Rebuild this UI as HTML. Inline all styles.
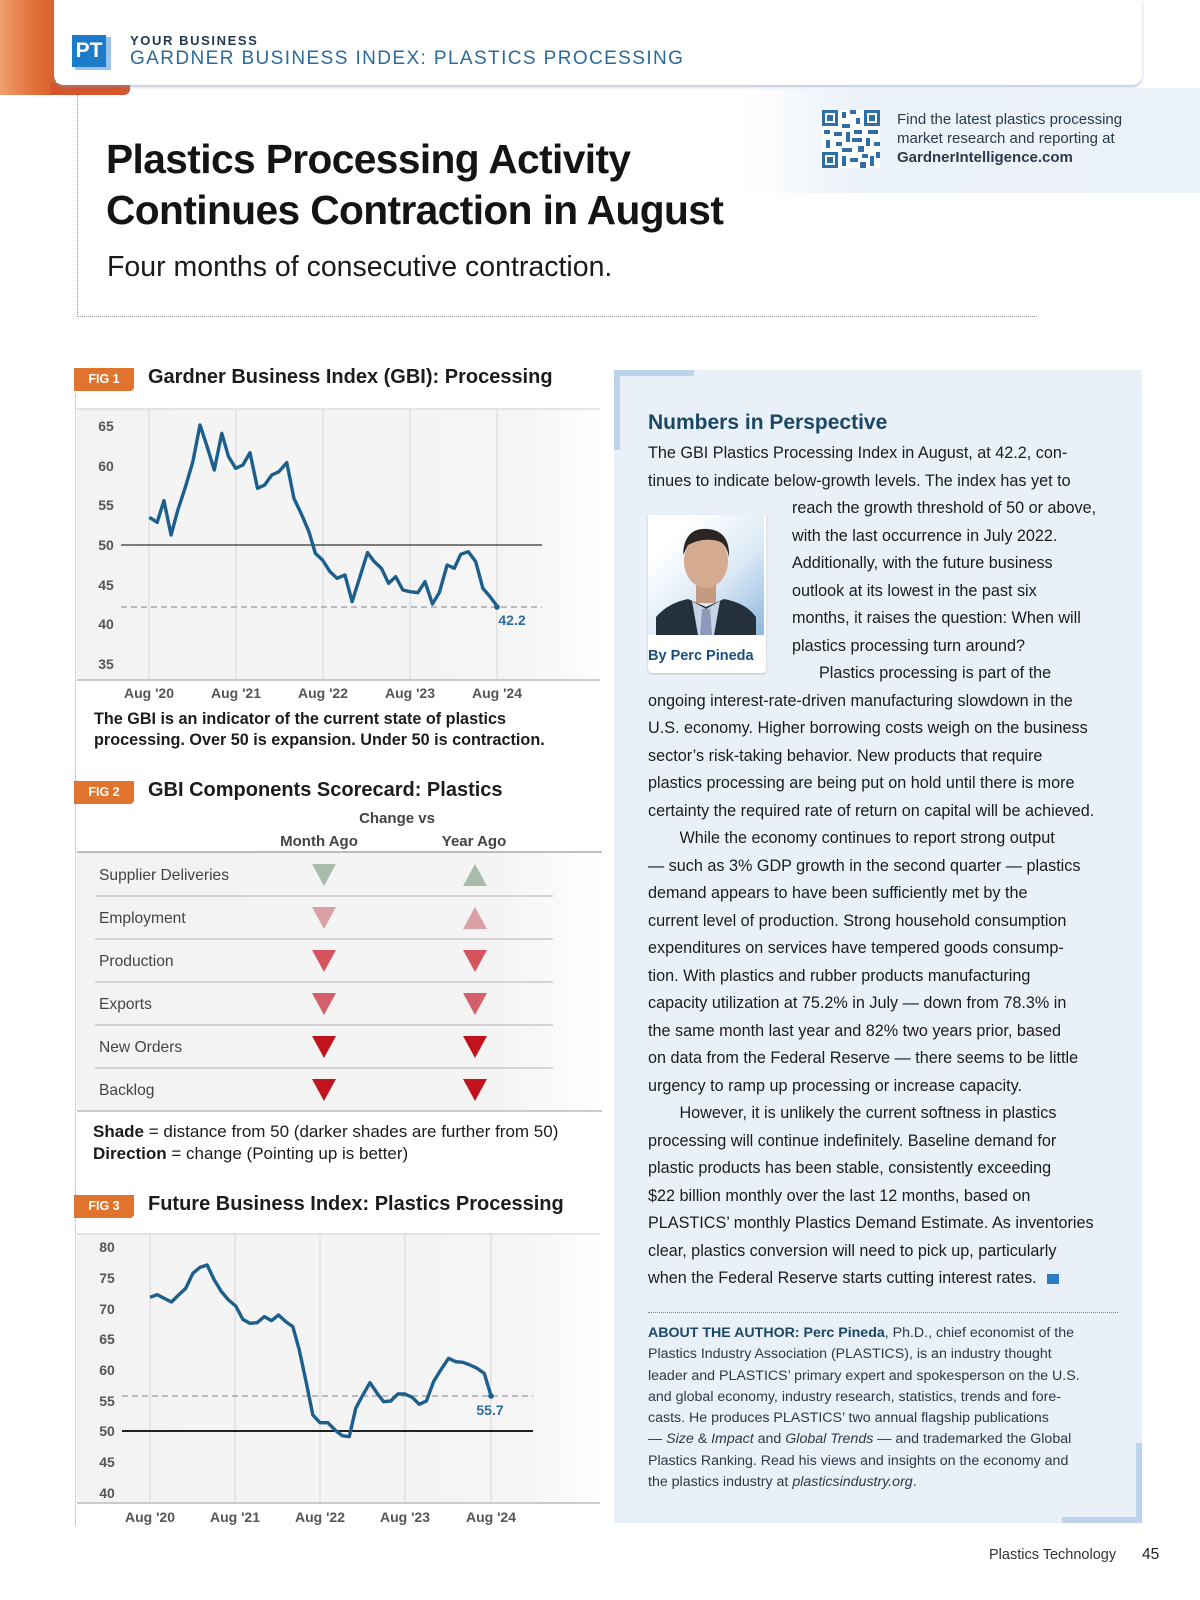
<!DOCTYPE html>
<html><head><meta charset="utf-8">
<style>
*{margin:0;padding:0;box-sizing:border-box}
body{width:1200px;height:1600px;position:relative;background:#fff;font-family:"Liberation Sans",sans-serif;overflow:hidden;color:#1a1a1a}
.a{position:absolute;white-space:nowrap}
.body{font-size:16.2px;color:#1c1c1c}
.auth{font-size:14.2px;color:#2b3a4a}
</style></head><body>
<!-- header -->
<div class="a" style="left:0;top:0;width:56px;height:95px;background:linear-gradient(90deg,#f0a070,#e07038 60%,#d9602c)"></div>
<div class="a" style="left:50px;top:83px;width:80px;height:12px;background:#d4552a;border-radius:0 0 6px 0"></div>
<div class="a" style="left:54px;top:0;width:1088px;height:85px;background:#fff;border-radius:0 0 10px 10px;box-shadow:0 2px 3px rgba(120,150,190,.5)"></div>
<div class="a" style="left:75px;top:37px;width:36px;height:33px;background:#9cc4e8"></div>
<div class="a" style="left:72px;top:35px;width:34px;height:32px;background:#1b7bc9;color:#fff;font-weight:bold;font-size:21px;text-align:center;line-height:32px">PT</div>
<div class="a" style="left:130px;top:33px;font-size:13px;font-weight:bold;letter-spacing:1.6px;color:#23384e">YOUR BUSINESS</div>
<div class="a" style="left:130px;top:48px;font-size:19px;letter-spacing:1.4px;color:#2b6a9c">GARDNER BUSINESS INDEX: PLASTICS PROCESSING</div>
<!-- top right blue area -->
<div class="a" style="left:740px;top:88px;width:460px;height:105px;background:linear-gradient(90deg,rgba(236,242,249,0),#ecf2f9 25%,#ebf1f8)"></div>
<svg class="a" style="left:822px;top:110px" width="58" height="58" viewBox="0 0 58 58">
<rect width="58" height="58" fill="#fff"/>
<g fill="#2f6fa8">
<rect x="0" y="0" width="16" height="16"/><rect x="42" y="0" width="16" height="16"/><rect x="0" y="42" width="16" height="16"/>
</g>
<g fill="#fff"><rect x="3" y="3" width="10" height="10"/><rect x="45" y="3" width="10" height="10"/><rect x="3" y="45" width="10" height="10"/></g>
<g fill="#2f6fa8"><rect x="5" y="5" width="6" height="6"/><rect x="47" y="5" width="6" height="6"/><rect x="5" y="47" width="6" height="6"/>
<rect x="20" y="2" width="4" height="6"/><rect x="28" y="0" width="6" height="4"/><rect x="34" y="8" width="4" height="6"/><rect x="20" y="14" width="8" height="4"/>
<rect x="2" y="20" width="6" height="4"/><rect x="12" y="22" width="8" height="4"/><rect x="24" y="22" width="4" height="10"/><rect x="32" y="20" width="8" height="4"/><rect x="46" y="20" width="10" height="4"/>
<rect x="4" y="30" width="4" height="8"/><rect x="14" y="32" width="6" height="4"/><rect x="30" y="28" width="10" height="4"/><rect x="44" y="28" width="4" height="8"/><rect x="52" y="32" width="6" height="4"/>
<rect x="20" y="38" width="10" height="4"/><rect x="36" y="36" width="6" height="6"/><rect x="20" y="46" width="4" height="10"/><rect x="28" y="48" width="8" height="4"/><rect x="40" y="44" width="6" height="4"/><rect x="48" y="46" width="4" height="10"/><rect x="38" y="52" width="6" height="6"/><rect x="54" y="42" width="4" height="6"/></g>
</svg>
<div class="a" style="left:897px;top:110px;font-size:15px;line-height:19px;color:#2a3a4c">Find the latest plastics processing<br>market research and reporting at<br><b>GardnerIntelligence.com</b></div>
<!-- title box -->
<div class="a" style="left:77px;top:95px;width:0;height:222px;border-left:1px dotted #9a9a9a"></div>
<div class="a" style="left:77px;top:316px;width:960px;height:0;border-top:1px dotted #9a9a9a"></div>
<div class="a" style="left:106px;top:134px;font-size:40.7px;font-weight:bold;line-height:51px;letter-spacing:-0.6px;color:#141414">Plastics Processing Activity<br>Continues Contraction in August</div>
<div class="a" style="left:107px;top:251px;font-size:28.5px;color:#1a1a1a;letter-spacing:0px">Four months of consecutive contraction.</div>
<!-- left vertical dotted -->
<div class="a" style="left:75px;top:395px;width:0;height:1130px;border-left:1px dotted #aaa"></div>

<!-- FIG 1 -->
<div class="a" style="left:74px;top:368px;width:60px;height:23px;background:#e0742e;color:#fff;font-weight:bold;font-size:12.5px;line-height:23px;text-align:center;border-radius:0 0 4px 0">FIG 1</div>
<div class="a" style="left:148px;top:366px;font-size:20px;font-weight:bold;color:#1c1c1c">Gardner Business Index (GBI): Processing</div>
<svg class="a" style="left:0;top:0" width="620" height="760">
<defs><linearGradient id="bg1" x1="0" x2="1"><stop offset="0" stop-color="#f3f3f3"/><stop offset="0.85" stop-color="#f5f5f5"/><stop offset="1" stop-color="#fff"/></linearGradient></defs>
<rect x="77" y="409" width="525" height="271" fill="url(#bg1)"/>
<line x1="77" y1="409" x2="600" y2="409" stroke="#ccc"/>
<line x1="77" y1="680" x2="600" y2="680" stroke="#bbb" stroke-width="1.5"/>
<g stroke="#d6d6d6" stroke-width="1">
<line x1="149" y1="409" x2="149" y2="680"/><line x1="236" y1="409" x2="236" y2="680"/><line x1="323" y1="409" x2="323" y2="680"/><line x1="410" y1="409" x2="410" y2="680"/><line x1="497" y1="409" x2="497" y2="680"/></g>
<line x1="121" y1="545" x2="542" y2="545" stroke="#333" stroke-width="1.3"/>
<line x1="121" y1="607" x2="542" y2="607" stroke="#999" stroke-width="1.3" stroke-dasharray="6,4"/>
<g font-family="Liberation Sans,sans-serif" font-weight="bold" font-size="14" fill="#555" text-anchor="middle">
<text x="106" y="431">65</text><text x="106" y="471">60</text><text x="106" y="510">55</text><text x="106" y="550">50</text><text x="106" y="590">45</text><text x="106" y="629">40</text><text x="106" y="669">35</text>
<text x="149" y="698">Aug '20</text><text x="236" y="698">Aug '21</text><text x="323" y="698">Aug '22</text><text x="410" y="698">Aug '23</text><text x="497" y="698">Aug '24</text>
<text x="512" y="625" fill="#2c6e9f">42.2</text></g>
<g transform="translate(60,400) scale(0.35714,0.33333)">
<polyline fill="none" stroke="#1d5f8c" stroke-width="3.4" vector-effect="non-scaling-stroke" stroke-linejoin="round" points="250,352 272,367 291,302 311,405 330,330 350,265 372,185 392,75 412,140 432,210 453,100 472,170 492,205 512,195 532,158 553,265 573,255 593,225 613,215 635,188 655,295 675,340 697,395 715,460 735,480 756,515 776,535 798,525 818,605 840,530 861,458 880,485 900,505 920,550 940,530 960,570 980,575 1002,578 1022,545 1043,612 1062,578 1084,495 1104,505 1122,463 1143,455 1164,485 1184,565 1204,590 1225,620"/>
</g>
<circle cx="497" cy="607" r="2.8" fill="#1d5f8c"/>
</svg>
<div class="a" style="left:94px;top:709px;font-size:16.2px;font-weight:bold;line-height:21px;color:#1c1c1c">The GBI is an indicator of the current state of plastics<br>processing. Over 50 is expansion. Under 50 is contraction.</div>

<!-- FIG 2 -->
<div class="a" style="left:74px;top:781px;width:60px;height:23px;background:#e0742e;color:#fff;font-weight:bold;font-size:12.5px;line-height:23px;text-align:center;border-radius:0 0 4px 0">FIG 2</div>
<div class="a" style="left:148px;top:779px;font-size:20px;font-weight:bold;color:#1c1c1c">GBI Components Scorecard: Plastics</div>
<svg class="a" style="left:0;top:790px" width="620" height="340">
<defs><linearGradient id="bg2" x1="0" x2="1"><stop offset="0" stop-color="#f3f3f3"/><stop offset="0.8" stop-color="#f4f4f4"/><stop offset="1" stop-color="#fff"/></linearGradient></defs>
<rect x="77" y="62" width="525" height="259" fill="url(#bg2)"/>
<line x1="77" y1="62" x2="602" y2="62" stroke="#999" stroke-width="1.2"/>
<g stroke="#c8c8c8" stroke-width="1.5"><line x1="95" y1="106" x2="553" y2="106"/><line x1="95" y1="149" x2="553" y2="149"/><line x1="95" y1="192" x2="553" y2="192"/><line x1="95" y1="235" x2="553" y2="235"/><line x1="95" y1="278" x2="553" y2="278"/></g>
<line x1="77" y1="321" x2="602" y2="321" stroke="#bbb" stroke-width="1.5"/>
<g font-family="Liberation Sans,sans-serif" font-size="15.6" fill="#444">
<text x="99" y="90">Supplier Deliveries</text><text x="99" y="133">Employment</text><text x="99" y="176">Production</text><text x="99" y="219">Exports</text><text x="99" y="262">New Orders</text><text x="99" y="305">Backlog</text></g>
<g font-family="Liberation Sans,sans-serif" font-size="15" font-weight="bold" fill="#444" text-anchor="middle">
<text x="397" y="33">Change vs</text><text x="319" y="56">Month Ago</text><text x="474" y="56">Year Ago</text></g>
<g>
<polygon points="312,74 336,74 324,96" fill="#a8bcac"/><polygon points="463,96 487,96 475,74" fill="#a8bcac"/>
<polygon points="312,117 336,117 324,139" fill="#daa0a6"/><polygon points="463,139 487,139 475,117" fill="#daa0a6"/>
<polygon points="312,160 336,160 324,182" fill="#d6545e"/><polygon points="463,160 487,160 475,182" fill="#d6545e"/>
<polygon points="312,203 336,203 324,225" fill="#d3606a"/><polygon points="463,203 487,203 475,225" fill="#d3606a"/>
<polygon points="312,246 336,246 324,268" fill="#c0131d"/><polygon points="463,246 487,246 475,268" fill="#c0131d"/>
<polygon points="312,289 336,289 324,311" fill="#c0131d"/><polygon points="463,289 487,289 475,311" fill="#c0131d"/>
</g></svg>
<div class="a" style="left:93px;top:1121px;font-size:17px;line-height:21.5px;color:#1c1c1c"><b>Shade</b> = distance from 50 (darker shades are further from 50)<br><b>Direction</b> = change (Pointing up is better)</div>

<!-- FIG 3 -->
<div class="a" style="left:74px;top:1195px;width:60px;height:23px;background:#e0742e;color:#fff;font-weight:bold;font-size:12.5px;line-height:23px;text-align:center;border-radius:0 0 4px 0">FIG 3</div>
<div class="a" style="left:148px;top:1193px;font-size:20px;font-weight:bold;color:#1c1c1c">Future Business Index: Plastics Processing</div>
<svg class="a" style="left:0;top:0" width="620" height="1600">
<rect x="77" y="1234" width="525" height="269" fill="url(#bg1)"/>
<line x1="77" y1="1234" x2="600" y2="1234" stroke="#ccc"/>
<line x1="77" y1="1503" x2="600" y2="1503" stroke="#bbb" stroke-width="1.5"/>
<g stroke="#d6d6d6"><line x1="150" y1="1234" x2="150" y2="1503"/><line x1="235" y1="1234" x2="235" y2="1503"/><line x1="320" y1="1234" x2="320" y2="1503"/><line x1="405" y1="1234" x2="405" y2="1503"/><line x1="491" y1="1234" x2="491" y2="1503"/></g>
<line x1="122" y1="1431" x2="533" y2="1431" stroke="#222" stroke-width="2"/>
<line x1="122" y1="1396" x2="533" y2="1396" stroke="#999" stroke-width="1.3" stroke-dasharray="6,4"/>
<g font-family="Liberation Sans,sans-serif" font-weight="bold" font-size="14" fill="#555" text-anchor="middle">
<text x="107" y="1252">80</text><text x="107" y="1283">75</text><text x="107" y="1314">70</text><text x="107" y="1344">65</text><text x="107" y="1375">60</text><text x="107" y="1406">55</text><text x="107" y="1436">50</text><text x="107" y="1467">45</text><text x="107" y="1498">40</text>
<text x="150" y="1522">Aug '20</text><text x="235" y="1522">Aug '21</text><text x="320" y="1522">Aug '22</text><text x="405" y="1522">Aug '23</text><text x="491" y="1522">Aug '24</text>
<text x="490" y="1415" fill="#2c6e9f">55.7</text></g>
<g transform="translate(60,1230) scale(0.35714,0.33333)">
<polyline fill="none" stroke="#1d5f8c" stroke-width="3.4" vector-effect="non-scaling-stroke" stroke-linejoin="round" points="252,202 272,194 292,205 312,216 332,195 352,175 372,130 392,112 412,105 432,150 452,185 472,210 492,228 512,268 532,280 552,278 572,260 592,272 612,255 632,275 652,290 670,360 690,460 708,555 728,578 750,578 770,600 790,617 810,620 828,535 848,495 868,458 888,490 906,515 926,513 946,492 966,492 986,502 1006,523 1026,513 1046,455 1066,420 1088,385 1108,395 1128,397 1148,405 1168,415 1188,430 1207,498"/>
</g>
<circle cx="491" cy="1396" r="2.8" fill="#1d5f8c"/>
</svg>

<!-- right panel -->
<div class="a" style="left:614px;top:370px;width:528px;height:1153px;background:#e9f0f7"></div>
<div class="a" style="left:614px;top:370px;width:80px;height:6px;background:#bdd3ea"></div>
<div class="a" style="left:614px;top:370px;width:6px;height:80px;background:#bdd3ea"></div>
<div class="a" style="left:1062px;top:1517px;width:80px;height:6px;background:#bdd3ea"></div>
<div class="a" style="left:1136px;top:1443px;width:6px;height:80px;background:#bdd3ea"></div>
<div class="a" style="left:648px;top:411px;font-size:21px;font-weight:bold;color:#1b4766">Numbers in Perspective</div>
<!-- photo -->
<div class="a" style="left:648px;top:515px;width:118px;height:158px;background:#fff;border-radius:0 0 4px 4px;box-shadow:0 1px 2px rgba(0,0,0,.2)"></div>
<div class="a" style="left:648px;top:515px;width:116px;height:120px;background:linear-gradient(135deg,#fff 20%,#dbe9f6 60%,#8fb6de)"></div>
<svg class="a" style="left:648px;top:505px" width="116" height="130">
<path d="M8,130 L8,112 Q20,98 40,94 L58,102 L76,94 Q98,98 108,112 L108,130 Z" fill="#25303d"/>
<path d="M44,96 L58,104 L72,96 L66,130 L50,130 Z" fill="#c8d4e4"/>
<path d="M54,104 L62,104 L64,130 L52,130 Z" fill="#8a9ab8"/>
<rect x="48" y="76" width="20" height="22" fill="#c49a80"/>
<ellipse cx="58" cy="56" rx="22" ry="27" fill="#d4ab90"/>
<path d="M35,50 Q36,22 60,24 Q82,26 81,52 Q78,38 70,36 Q55,32 40,40 Z" fill="#2b2624"/>
</svg>
<div class="a" style="left:648px;top:648px;font-size:14.5px;font-weight:bold;color:#1b4f80">By Perc Pineda</div>
<div class="a body" style="left:648px;top:440px;line-height:27.5px">The GBI Plastics Processing Index in August, at 42.2, con-<br>tinues to indicate below-growth levels. The index has yet to</div>
<div class="a body" style="left:792px;top:495px;line-height:27.5px">reach the growth threshold of 50 or above,<br>with the last occurrence in July 2022.<br>Additionally, with the future business<br>outlook at its lowest in the past six<br>months, it raises the question: When will<br>plastics processing turn around?<br>&nbsp;&nbsp;&nbsp;&nbsp;&nbsp;&nbsp;Plastics processing is part of the</div>
<div class="a body" style="left:648px;top:687.5px;line-height:27.5px">ongoing interest-rate-driven manufacturing slowdown in the<br>U.S. economy. Higher borrowing costs weigh on the business<br>sector’s risk-taking behavior. New products that require<br>plastics processing are being put on hold until there is more<br>certainty the required rate of return on capital will be achieved.<br>&nbsp;&nbsp;&nbsp;&nbsp;&nbsp;&nbsp;&nbsp;While the economy continues to report strong output<br>— such as 3% GDP growth in the second quarter — plastics<br>demand appears to have been sufficiently met by the<br>current level of production. Strong household consumption<br>expenditures on services have tempered goods consump-<br>tion. With plastics and rubber products manufacturing<br>capacity utilization at 75.2% in July — down from 78.3% in<br>the same month last year and 82% two years prior, based<br>on data from the Federal Reserve — there seems to be little<br>urgency to ramp up processing or increase capacity.<br>&nbsp;&nbsp;&nbsp;&nbsp;&nbsp;&nbsp;&nbsp;However, it is unlikely the current softness in plastics<br>processing will continue indefinitely. Baseline demand for<br>plastic products has been stable, consistently exceeding<br>$22 billion monthly over the last 12 months, based on<br>PLASTICS’ monthly Plastics Demand Estimate. As inventories<br>clear, plastics conversion will need to pick up, particularly<br>when the Federal Reserve starts cutting interest rates. <span style="display:inline-block;width:12px;height:10px;background:#2a7ac4;margin-left:6px;vertical-align:middle"></span></div>
<div class="a" style="left:648px;top:1312px;width:470px;border-top:1.5px dotted #7a8a9a"></div>
<div class="a auth" style="left:648px;top:1323px;line-height:21.3px"><b style="color:#1b4766">ABOUT THE AUTHOR: Perc Pineda</b>, Ph.D., chief economist of the<br>Plastics Industry Association (PLASTICS), is an industry thought<br>leader and PLASTICS’ primary expert and spokesperson on the U.S.<br>and global economy, industry research, statistics, trends and fore-<br>casts. He produces PLASTICS’ two annual flagship publications<br>— <i>Size</i> &amp; <i>Impact</i> and <i>Global Trends</i> — and trademarked the Global<br>Plastics Ranking. Read his views and insights on the economy and<br>the plastics industry at <i>plasticsindustry.org</i>.</div>
<div class="a" style="left:989px;top:1547px;font-size:14.5px;color:#333">Plastics Technology</div>
<div class="a" style="left:1142px;top:1546px;font-size:15.5px;color:#222">45</div>
</body></html>
